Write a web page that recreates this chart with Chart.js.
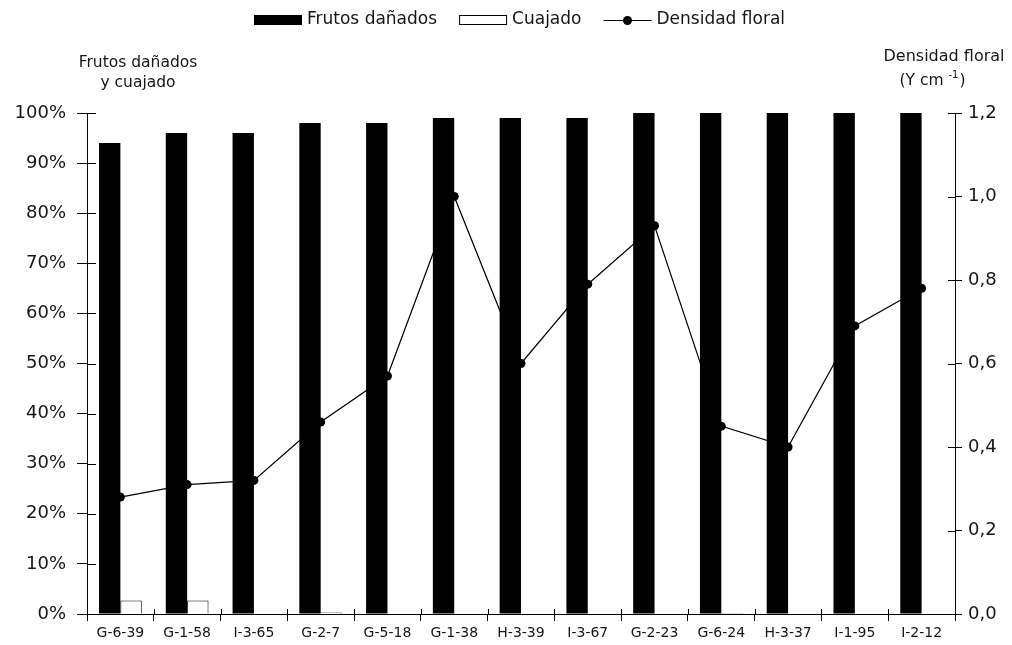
<!DOCTYPE html>
<html>
<head>
<meta charset="utf-8">
<script src="https://cdn.jsdelivr.net/npm/chart.js@4/dist/chart.umd.min.js"></script>
<style>
  html, body { margin: 0; padding: 0; background: #fff; }
  #wrap { width: 1012px; height: 645px; position: relative; }
</style>
</head>
<body>
<div id="wrap"><canvas id="c" width="1012" height="645"></canvas></div>
<script>
// Genotypes on the x axis
const genotipos = ['G-6-39', 'G-1-58', 'I-3-65', 'G-2-7', 'G-5-18', 'G-1-38', 'H-3-39',
                   'I-3-67', 'G-2-23', 'G-6-24', 'H-3-37', 'I-1-95', 'I-2-12'];
// Damaged fruits (%)
const frutosDanados = [94, 96, 96, 98, 98, 99, 99, 99, 100, 100, 100, 100, 100];
// Fruit set (%)
const cuajado = [2.7, 2.7, 0, 0.3, 0, 0, 0, 0, 0, 0.2, 0, 0, 0];
// Floral density (Y cm-1)
const densidadFloral = [0.28, 0.31, 0.32, 0.46, 0.57, 1.0, 0.60, 0.79, 0.93, 0.45, 0.40, 0.69, 0.78];
// Axis tick values
const ticksPct = [0, 10, 20, 30, 40, 50, 60, 70, 80, 90, 100];
const ticksDens = [0, 0.2, 0.4, 0.6, 0.8, 1.0, 1.2];

const FONT = '"DejaVu Sans", "Liberation Sans", Arial, sans-serif';
const INK = '#161616';

// Draws the legend, the two axis captions and the inner half of each tick mark
const decoraciones = {
  id: 'decoraciones',
  afterDraw(chart) {
    const ctx = chart.ctx;
    const { x, y, y2 } = chart.scales;
    ctx.save();
    ctx.strokeStyle = '#000';
    ctx.lineWidth = 1;
    // inner tick halves
    ctx.beginPath();
    y.ticks.forEach(t => {
      const py = Math.round(y.getPixelForValue(t.value)) + 0.5;
      ctx.moveTo(y.right, py); ctx.lineTo(y.right + 9, py);
    });
    y2.ticks.forEach(t => {
      const py = Math.round(y2.getPixelForValue(t.value)) + 0.5;
      ctx.moveTo(y2.left, py); ctx.lineTo(y2.left - 7, py);
    });
    for (let i = 0; i <= genotipos.length; i++) {
      const px = Math.round(x.left + (x.right - x.left) * i / genotipos.length) + 0.5;
      ctx.moveTo(px, x.top); ctx.lineTo(px, x.top - 5);
    }
    ctx.stroke();

    // axis captions
    ctx.fillStyle = INK;
    ctx.textBaseline = 'middle';
    ctx.textAlign = 'center';
    ctx.font = '15.5px ' + FONT;
    ctx.fillText('Frutos dañados', 138, 63);
    ctx.fillText('y cuajado', 138, 83);
    ctx.font = '16px ' + FONT;
    ctx.fillText('Densidad floral', 944, 57);
    // "(Y cm -1)" with superscript
    const base = '(Y cm ';
    ctx.textAlign = 'left';
    ctx.font = '15.5px ' + FONT;
    const wBase = ctx.measureText(base).width;
    ctx.font = '10px ' + FONT;
    const wSup = ctx.measureText('-1').width;
    ctx.font = '15.5px ' + FONT;
    const wClose = ctx.measureText(')').width;
    let sx = 932 - (wBase + wSup + wClose) / 2;
    ctx.fillText(base, sx, 81);
    ctx.font = '10px ' + FONT;
    ctx.fillText('-1', sx + wBase, 75);
    ctx.font = '15.5px ' + FONT;
    ctx.fillText(')', sx + wBase + wSup + 1, 81);

    // legend
    const ds = chart.data.datasets;
    ctx.font = '17px ' + FONT;
    const ly = 20;
    let lx = 254;
    // bar item: black
    ctx.fillStyle = ds[0].backgroundColor;
    ctx.fillRect(lx, ly - 5, 48, 10);
    lx += 53;
    ctx.fillStyle = INK;
    ctx.fillText(ds[0].label, lx, ly);
    lx += ctx.measureText(ds[0].label).width + 22;
    // bar item: white with outline
    ctx.fillStyle = ds[1].backgroundColor;
    ctx.fillRect(lx, ly - 5, 48, 10);
    ctx.strokeStyle = ds[1].borderColor;
    ctx.strokeRect(lx + 0.5, ly - 4.5, 47, 9);
    lx += 53;
    ctx.fillStyle = INK;
    ctx.fillText(ds[1].label, lx, ly);
    lx += ctx.measureText(ds[1].label).width + 22;
    // line item
    ctx.strokeStyle = ds[2].borderColor;
    ctx.lineWidth = 1.2;
    ctx.beginPath();
    ctx.moveTo(lx, ly + 0.5); ctx.lineTo(lx + 48, ly + 0.5);
    ctx.stroke();
    ctx.fillStyle = ds[2].pointBackgroundColor;
    ctx.beginPath();
    ctx.arc(lx + 24, ly + 0.5, 4.5, 0, Math.PI * 2);
    ctx.fill();
    lx += 53;
    ctx.fillStyle = INK;
    ctx.fillText(ds[2].label, lx, ly);
    ctx.restore();
  }
};

new Chart(document.getElementById('c'), {
  data: {
    labels: genotipos,
    datasets: [
      {
        type: 'bar', label: 'Frutos dañados', data: frutosDanados, yAxisID: 'y',
        backgroundColor: '#000', borderWidth: 0, order: 1,
        categoryPercentage: 0.64, barPercentage: 1.0
      },
      {
        type: 'bar', label: 'Cuajado', data: cuajado, yAxisID: 'y',
        backgroundColor: '#fff', borderColor: '#000', borderWidth: 1, order: 1,
        categoryPercentage: 0.64, barPercentage: 1.0
      },
      {
        type: 'line', label: 'Densidad floral', data: densidadFloral, yAxisID: 'y2',
        borderColor: '#000', borderWidth: 1.2, pointRadius: 4.5,
        pointBackgroundColor: '#000', pointBorderWidth: 0, tension: 0, order: 0
      }
    ]
  },
  options: {
    responsive: false,
    animation: false,
    devicePixelRatio: 1,
    layout: { padding: { top: 113, left: 0, right: 0, bottom: 0 } },
    plugins: { legend: { display: false }, tooltip: { enabled: false } },
    scales: {
      x: {
        offset: true,
        grid: { offset: true, drawOnChartArea: false, color: '#000', tickLength: 7, lineWidth: 1 },
        border: { color: '#000', width: 1 },
        ticks: { color: INK, font: { family: FONT, size: 14 }, padding: 4, maxRotation: 0, autoSkip: false },
        afterFit(s) { s.height = 31; }
      },
      y: {
        position: 'left', min: 0, max: 100,
        afterBuildTicks(s) { s.ticks = ticksPct.map(v => ({ value: v })); },
        grid: { drawOnChartArea: false, color: '#000', tickLength: 10 },
        border: { color: '#000', width: 1 },
        ticks: { color: INK, font: { family: FONT, size: 18 }, padding: 11,
                 callback: v => v + '%' },
        afterFit(s) { s.width = 87; }
      },
      y2: {
        position: 'right', min: 0, max: 1.2,
        afterBuildTicks(s) { s.ticks = ticksDens.map(v => ({ value: v })); },
        grid: { drawOnChartArea: false, color: '#000', tickLength: 7 },
        border: { color: '#000', width: 1 },
        ticks: { color: INK, font: { family: FONT, size: 18 }, padding: 6,
                 callback: v => v.toFixed(1).replace('.', ',') },
        afterFit(s) { s.width = 57; }
      }
    }
  },
  plugins: [decoraciones]
});
</script>
</body>
</html>
